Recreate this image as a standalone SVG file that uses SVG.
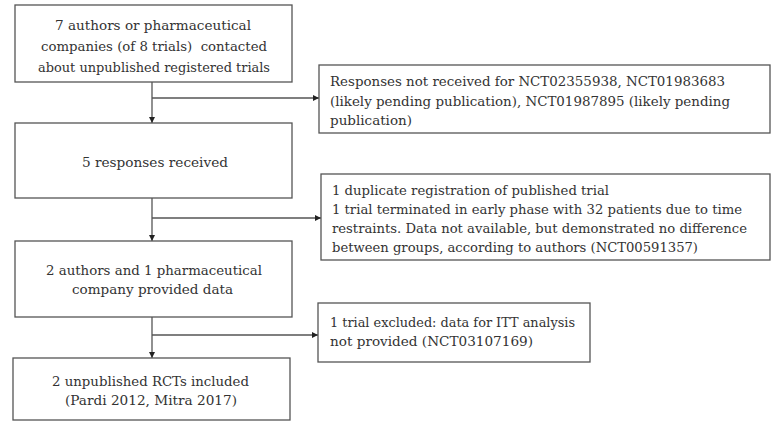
<svg xmlns="http://www.w3.org/2000/svg" width="771" height="421" viewBox="0 0 771 421">
<style>
.box{fill:#fff;stroke:#555;stroke-width:1.3}
.t{font-family:"DejaVu Serif","Liberation Serif",serif;font-size:12.5px;fill:#333}
.c{text-anchor:middle}
.ln{fill:none;stroke:#555;stroke-width:1.3}
</style>
<defs>
<marker id="ah" viewBox="0 0 10 10" refX="10" refY="5" markerWidth="6" markerHeight="6" markerUnits="userSpaceOnUse" orient="auto">
<path d="M0,0 L10,5 L0,10 z" fill="#222"/>
</marker>
</defs>
<rect width="771" height="421" fill="#fff"/>
<g id="connectors">
<line class="ln" x1="152" y1="82" x2="152" y2="123" marker-end="url(#ah)"/>
<line class="ln" x1="152" y1="98" x2="319" y2="98" marker-end="url(#ah)"/>
<line class="ln" x1="152" y1="198" x2="152" y2="241" marker-end="url(#ah)"/>
<line class="ln" x1="152" y1="218" x2="321" y2="218" marker-end="url(#ah)"/>
<line class="ln" x1="152" y1="317" x2="152" y2="358" marker-end="url(#ah)"/>
<line class="ln" x1="152" y1="335" x2="318" y2="335" marker-end="url(#ah)"/>
</g>
<g id="n1">
<rect class="box" x="15" y="5" width="277" height="77"/>
<text class="t" x="55" y="30" textLength="196" lengthAdjust="spacingAndGlyphs">7 authors or pharmaceutical</text>
<text class="t" x="41" y="51" textLength="226" lengthAdjust="spacingAndGlyphs" xml:space="preserve">companies (of 8 trials)  contacted</text>
<text class="t" x="38" y="72" textLength="232" lengthAdjust="spacingAndGlyphs">about unpublished registered trials</text>
</g>
<g id="n2">
<rect class="box" x="319" y="65" width="451" height="68"/>
<text class="t" x="330" y="86" textLength="395" lengthAdjust="spacingAndGlyphs">Responses not received for NCT02355938, NCT01983683</text>
<text class="t" x="330" y="105.5" textLength="400" lengthAdjust="spacingAndGlyphs">(likely pending publication), NCT01987895 (likely pending</text>
<text class="t" x="330" y="125" textLength="82" lengthAdjust="spacingAndGlyphs">publication)</text>
</g>
<g id="n3">
<rect class="box" x="15" y="123" width="277" height="75"/>
<text class="t" x="82" y="167" textLength="146" lengthAdjust="spacingAndGlyphs">5 responses received</text>
</g>
<g id="n4">
<rect class="box" x="321" y="174" width="449" height="86"/>
<text class="t" x="332" y="195" textLength="277" lengthAdjust="spacingAndGlyphs">1 duplicate registration of published trial</text>
<text class="t" x="332" y="214" textLength="410" lengthAdjust="spacingAndGlyphs">1 trial terminated in early phase with 32 patients due to time</text>
<text class="t" x="332" y="233" textLength="415" lengthAdjust="spacingAndGlyphs">restraints. Data not available, but demonstrated no difference</text>
<text class="t" x="332" y="252" textLength="366" lengthAdjust="spacingAndGlyphs">between groups, according to authors (NCT00591357)</text>
</g>
<g id="n5">
<rect class="box" x="15" y="241" width="277" height="76"/>
<text class="t" x="46" y="275" textLength="216" lengthAdjust="spacingAndGlyphs">2 authors and 1 pharmaceutical</text>
<text class="t" x="72" y="294" textLength="161" lengthAdjust="spacingAndGlyphs">company provided data</text>
</g>
<g id="n6">
<rect class="box" x="318" y="303" width="272" height="59"/>
<text class="t" x="330" y="327" textLength="245" lengthAdjust="spacingAndGlyphs">1 trial excluded: data for ITT analysis</text>
<text class="t" x="330" y="346" textLength="203" lengthAdjust="spacingAndGlyphs">not provided (NCT03107169)</text>
</g>
<g id="n7">
<rect class="box" x="13" y="358" width="277" height="62"/>
<text class="t" x="52" y="386" textLength="197" lengthAdjust="spacingAndGlyphs">2 unpublished RCTs included</text>
<text class="t" x="65" y="405" textLength="172" lengthAdjust="spacingAndGlyphs">(Pardi 2012, Mitra 2017)</text>
</g>
</svg>
